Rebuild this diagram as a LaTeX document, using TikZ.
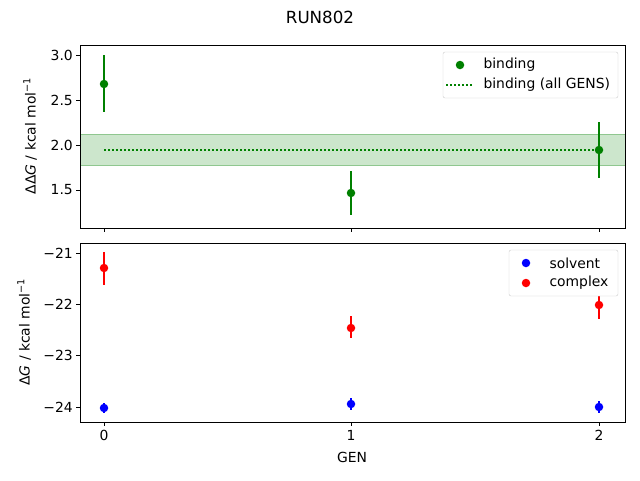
\documentclass[tikz,border=0pt]{standalone}
\usepackage{fontspec}
\setmainfont{DejaVu Sans}
\begin{document}
\begin{tikzpicture}[x=1pt,y=-1pt,font=\fontsize{13.9}{16}\selectfont,
  ax/.style={draw=black,line width=0.8pt},
  tk/.style={line width=0.8pt},
  eb/.style={line width=1.5pt},
  dl/.style={mgreen,line width=1.5pt,dash pattern=on 1.5pt off 2.5pt},
  mk/.style={circle,inner sep=0pt,minimum size=8.5pt},
  lab/.style={inner sep=1pt}]
\definecolor{mgreen}{RGB}{0,128,0}
\definecolor{mblue}{RGB}{0,0,255}
\definecolor{mred}{RGB}{255,0,0}
\definecolor{band}{RGB}{204,230,204}
\useasboundingbox (0,0) rectangle (640,480);
\node[font=\fontsize{16.7}{19}\selectfont] (title) at (320,17) {RUN802};
% top axes
\fill[band] (80,134) rectangle (625,165);
\draw[band!70!mgreen,line width=0.6pt] (80,134) -- (625,134) (80,165) -- (625,165);
\draw[dl] (104,150) -- (599,150);
\draw[mgreen,eb] (104,55) -- (104,112) (351,171) -- (351,215) (599,122) -- (599,178);
\node[mk,fill=mgreen] (g0) at (104,84) {};
\node[mk,fill=mgreen] (g1) at (351,193) {};
\node[mk,fill=mgreen] (g2) at (599,150) {};
\draw[ax] (80,45) rectangle (625,228);
\foreach \v/\y in {3.0/55,2.5/100,2.0/145,1.5/190}{
  \draw[tk] (80,\y) -- (76,\y); \node[anchor=east,lab] at (74,\y) {\v};}
\foreach \x in {104,351,599}{\draw[tk] (\x,228) -- (\x,232);}
\node[rotate=90] (yl1) at (30,136) {ΔΔ\textit{G} / kcal mol\textsuperscript{−1}};
% legend top
\draw[draw=black!20,fill=white,rounded corners=2pt] (443,52) rectangle (618,98);
\node[mk,fill=mgreen] (lg) at (460,65) {};
\node[anchor=west] at (480,65) {binding};
\draw[dl] (446,85) -- (474,85);
\node[anchor=west] (lt2) at (480,85) {binding (all GENS)};
% bottom axes
\draw[mred,eb] (104,252) -- (104,285) (351,316) -- (351,338) (599,290) -- (599,319);
\draw[mblue,eb] (104,403) -- (104,413) (351,398) -- (351,410) (599,401) -- (599,413);
\node[mk,fill=mblue] (b0) at (104,408) {};
\node[mk,fill=mblue] (b1) at (351,404) {};
\node[mk,fill=mblue] (b2) at (599,407) {};
\node[mk,fill=mred] (r0) at (104,268) {};
\node[mk,fill=mred] (r1) at (351,328) {};
\node[mk,fill=mred] (r2) at (599,305) {};
\draw[ax] (80,243) rectangle (625,422);
\foreach \v/\y in {21/253,22/304,23/355,24/407}{
  \draw[tk] (80,\y) -- (76,\y); \node[anchor=east,lab] at (74,\y) {−\v};}
\foreach \x/\t in {104/0,351/1,599/2}{\draw[tk] (\x,422) -- (\x,426); \node[anchor=north] at (\x,427) {\t};}
\node (xl) at (352,457) {GEN};
\node[rotate=90] (yl2) at (24,332) {Δ\textit{G} / kcal mol\textsuperscript{−1}};
% legend bottom
\draw[draw=black!20,fill=white,rounded corners=2pt] (509,250) rectangle (618,296);
\node[mk,fill=mblue] (lb) at (526,263) {};
\node[anchor=west] at (546,263) {solvent};
\node[mk,fill=mred] (lr) at (526,283) {};
\node[anchor=west] at (546,283) {complex};
\end{tikzpicture}
\end{document}
